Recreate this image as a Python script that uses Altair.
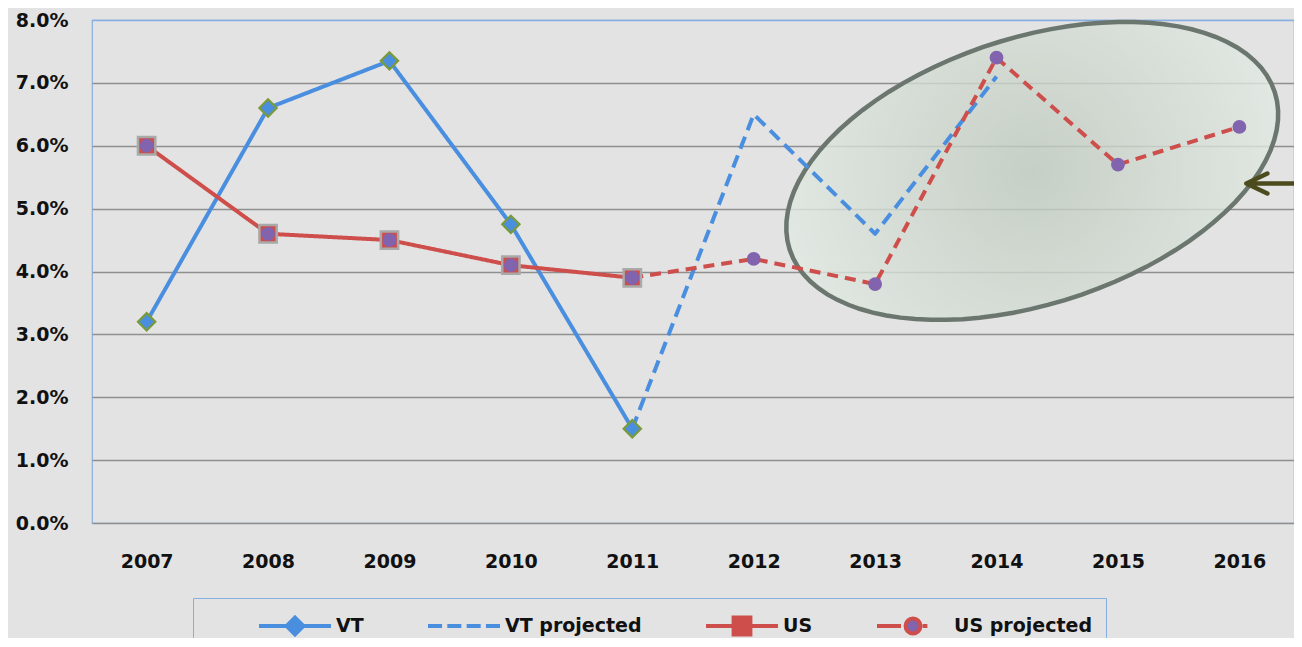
import math
import altair as alt
import pandas as pd

# ---------------- data ----------------
YEARS = ["2007", "2008", "2009", "2010", "2011", "2012", "2013", "2014", "2015", "2016"]
SERIES = ["VT", "VT projected", "US", "US projected"]

VT_YEARS = ["2007", "2008", "2009", "2010", "2011"]
VT_VALUES = [3.2, 6.6, 7.35, 4.75, 1.5]

VTP_YEARS = ["2011", "2012", "2013", "2014"]
VTP_VALUES = [1.5, 6.5, 4.6, 7.1]

US_YEARS = ["2007", "2008", "2009", "2010", "2011"]
US_VALUES = [6.0, 4.6, 4.5, 4.1, 3.9]

USP_YEARS = ["2011", "2012", "2013", "2014", "2015", "2016"]
USP_VALUES = [3.9, 4.2, 3.8, 7.4, 5.7, 6.3]

Y_TICKS = [0, 1, 2, 3, 4, 5, 6, 7, 8]

# annotation anchors (data units)
HIGHLIGHT_YEAR = ["2014"]
HIGHLIGHT_VALUE = [5.6]
ARROW_YEAR = ["2016"]
ARROW_VALUE = [5.4]

# ---------------- styles ----------------
BLUE = "#4a8fdf"
RED = "#cd4e4b"
PURPLE = "#8263ad"
GREEN = "#7a9a3a"
SQGREY = "#a9a9a9"
BG = "#e3e3e3"
FRAME = "#86aee0"
FONT = "DejaVu Sans"

rows = []
for name, ys, vs in zip(SERIES, [VT_YEARS, VTP_YEARS, US_YEARS, USP_YEARS],
                        [VT_VALUES, VTP_VALUES, US_VALUES, USP_VALUES]):
    for y, v in zip(ys, vs):
        rows.append({"series": name, "year": y, "value": v})
df = pd.DataFrame(rows)


# rotated ellipse outline (shape path, normalised to the major radius)
def ellipse_path(ratio, angle_deg, dx, n=90):
    phi = math.radians(angle_deg)
    pts = []
    for k in range(n):
        t = 2 * math.pi * k / n
        ex, ey = math.cos(t), ratio * math.sin(t)
        X = ex * math.cos(phi) - ey * math.sin(phi) + dx
        Y = ex * math.sin(phi) + ey * math.cos(phi)
        pts.append(f"{X:.4f},{Y:.4f}")
    return "M" + "L".join(pts) + "Z"


ELLIPSE = ellipse_path(133 / 255, -18, 0.14)
ARROW = "M0.7,0L8,0M2.8,-1.0L0.7,0L2.8,1.0"

# invisible zero-length segments give every legend symbol the same height
EXTENT = "M0,-1.0L0,-1.0M0,1.0L0,1.0"
CIRCLE = "M0.62,0A0.62,0.62 0 1,1 -0.62,0A0.62,0.62 0 1,1 0.62,0Z"
LEGEND_SHAPES = [
    EXTENT + "M-3,0L3,0M0,-0.7L0.7,0L0,0.7L-0.7,0Z",
    EXTENT + "M-3,0L-1.83,0M-1.39,0L-0.22,0M0.22,0L1.39,0M1.83,0L3,0",
    EXTENT + "M-3,0L3,0M-0.7,-0.7L0.7,-0.7L0.7,0.7L-0.7,0.7Z",
    EXTENT + "M-3,0L-1.0,0M0.8,0L1.2,0" + CIRCLE,
]

LINE_STYLE = {
    "VT": (BLUE, [1, 0]),
    "VT projected": (BLUE, [13, 7]),
    "US": (RED, [1, 0]),
    "US projected": (RED, [11, 7]),
}

x_enc = alt.X(
    "year:O",
    scale=alt.Scale(type="point", domain=YEARS, padding=0.45),
    axis=alt.Axis(title=None, labelAngle=0, ticks=False, domain=False, grid=False,
                  labelFont=FONT, labelFontSize=19, labelFontWeight="bold",
                  labelColor="#111111", labelPadding=29),
)
y_enc = alt.Y(
    "value:Q",
    scale=alt.Scale(domain=[0, 8], nice=False, zero=True),
    axis=alt.Axis(title=None, values=Y_TICKS, ticks=False, domain=False, grid=True,
                  labelExpr="format(datum.value, '.1f') + '%'",
                  gridColor={"condition": {"test": "datum.value == 8", "value": FRAME},
                             "value": "#8f8f8f"},
                  gridWidth=1.5,
                  labelFont=FONT, labelFontSize=19, labelFontWeight="bold",
                  labelColor="#111111", labelPadding=24),
)

ell_df = pd.DataFrame({"year": HIGHLIGHT_YEAR, "value": HIGHLIGHT_VALUE})
ellipse = alt.Chart(ell_df).mark_point(
    shape=ELLIPSE, size=510 * 510, filled=True, opacity=1,
    fill=alt.RadialGradient(
        gradient="radial",
        stops=[alt.GradientStop(offset=0, color="#bfcabf"),
               alt.GradientStop(offset=1, color="#e3ebe4")],
        x1=0.5, y1=0.5, r1=0, x2=0.5, y2=0.5, r2=0.55),
    fillOpacity=0.8, stroke="#6b766f", strokeWidth=4.5,
).encode(x=x_enc, y=y_enc)

line_layers = []
for name in SERIES:
    color, dash = LINE_STYLE[name]
    line_layers.append(
        alt.Chart(df).transform_filter(alt.datum.series == name)
        .mark_line(stroke=color, strokeDash=dash, strokeWidth=4, strokeJoin="round")
        .encode(x=x_enc, y=y_enc)
    )

diamonds = alt.Chart(df).transform_filter("datum.series == 'VT'").mark_point(
    shape="diamond", filled=True, fill=BLUE, stroke=GREEN, strokeWidth=2.2,
    size=300, opacity=1,
).encode(x=x_enc, y=y_enc)

squares = alt.Chart(df).transform_filter("datum.series == 'US'").mark_point(
    shape="square", filled=True, fill=RED, stroke=SQGREY, strokeWidth=2.5,
    size=300, opacity=1,
).encode(x=x_enc, y=y_enc)

dots = alt.Chart(df).transform_filter(
    "datum.series == 'US' || datum.series == 'US projected'"
).mark_point(shape="circle", filled=True, fill=PURPLE, size=190, opacity=1,
             strokeWidth=0).encode(x=x_enc, y=y_enc)

arr_df = pd.DataFrame({"year": ARROW_YEAR, "value": ARROW_VALUE})
arrow = alt.Chart(arr_df).mark_point(
    shape=ARROW, size=400, filled=False, stroke="#4b4b1e", strokeWidth=4.5,
    opacity=1, strokeCap="round", strokeJoin="round",
).encode(x=x_enc, y=y_enc)

leg = alt.Legend(
    title=None, orient="none", legendX=101, legendY=578, direction="horizontal",
    symbolSize=576, symbolStrokeWidth=4, symbolOffset=74, labelOffset=27,
    columnPadding=12, padding=14, strokeColor=FRAME, symbolOpacity=1,
    labelFont=FONT, labelFontSize=19, labelFontWeight="bold", labelColor="#111111",
    labelLimit=500,
)

leg_df = pd.DataFrame({"series": SERIES})
legend_layer = alt.Chart(leg_df).mark_point(filled=True, opacity=1, strokeWidth=4).encode(
    x=alt.value(-3000), y=alt.value(-3000),
    fill=alt.Fill("series:N", scale=alt.Scale(domain=SERIES, range=[BLUE, BLUE, RED, PURPLE]),
                  legend=leg),
    stroke=alt.Stroke("series:N", scale=alt.Scale(domain=SERIES, range=[BLUE, BLUE, RED, RED]),
                      legend=leg),
    shape=alt.Shape("series:N", scale=alt.Scale(domain=SERIES, range=LEGEND_SHAPES),
                    legend=leg),
)

chart = alt.layer(ellipse, *line_layers, diamonds, squares, dots, arrow, legend_layer).properties(
    width=1202, height=503,
    padding={"left": 84, "top": 12, "right": 0, "bottom": 115},
    autosize=alt.AutoSizeParams(type="none"),
    background=BG,
).configure_view(stroke=FRAME, strokeWidth=1.2)

chart.save("out.html", embed_options={"renderer": "svg", "actions": False})
